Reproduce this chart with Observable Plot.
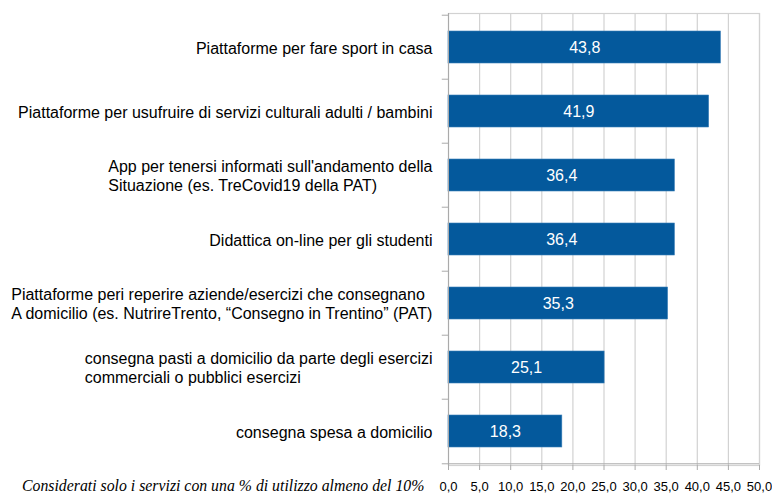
<!DOCTYPE html>
<html>
<head>
<meta charset="utf-8">
<script src="https://cdn.jsdelivr.net/npm/d3@7"></script>
<script src="https://cdn.jsdelivr.net/npm/@observablehq/plot@0.6"></script>
<style>
  html, body { margin: 0; padding: 0; background: #fff; }
  #wrap { position: relative; width: 772px; height: 495px; }
  #caption {
    position: absolute; left: 22px; top: 477px;
    font-family: "Liberation Serif", "DejaVu Serif", serif;
    font-style: italic; font-size: 15.8px; color: #000; white-space: nowrap;
  }
</style>
</head>
<body>
<div id="wrap"><div id="caption"></div></div>
<script>
const categories = [
  "Piattaforme per fare sport in casa",
  "Piattaforme per usufruire di servizi culturali adulti / bambini",
  "App per tenersi informati sull'andamento della\nSituazione (es. TreCovid19 della PAT)",
  "Didattica on-line per gli studenti",
  "Piattaforme peri reperire aziende/esercizi che consegnano\nA domicilio (es. NutrireTrento, \u201cConsegno in Trentino\u201d (PAT)",
  "consegna pasti a domicilio da parte degli esercizi\ncommerciali o pubblici esercizi",
  "consegna spesa a domicilio"
];
const values = [43.8, 41.9, 36.4, 36.4, 35.3, 25.1, 18.3];
const valueLabels = ["43,8", "41,9", "36,4", "36,4", "35,3", "25,1", "18,3"];
const xTicks = [0, 5, 10, 15, 20, 25, 30, 35, 40, 45, 50];
const xTickLabels = ["0,0", "5,0", "10,0", "15,0", "20,0", "25,0", "30,0", "35,0", "40,0", "45,0", "50,0"];
const captionText = "Considerati solo i servizi con una % di utilizzo almeno del 10%";

const data = categories.map((c, i) => ({cat: c, value: values[i], label: valueLabels[i]}));

const W = 772, H = 495, mL = 448, mR = 13, mT = 13, mB = 30;
const bandH = (H - mT - mB) / categories.length;

const chart = Plot.plot({
  width: W, height: H,
  marginLeft: mL, marginRight: mR, marginTop: mT, marginBottom: mB,
  style: {fontFamily: "'Liberation Sans', Arial, sans-serif", background: "#fff"},
  x: {domain: [0, 50]},
  y: {domain: categories, padding: 0, axis: null},
  marks: [
    Plot.ruleX(xTicks, {stroke: "#d2d2d2", strokeWidth: 1.2}),
    Plot.frame({stroke: "#d2d2d2", strokeWidth: 1.2}),
    Plot.barX(data, {x: "value", y: "cat", fill: "#04599c", stroke: "#3a7fb8", strokeWidth: 0.6, insetTop: 16, insetBottom: 16}),
    Plot.text(data, {x: d => d.value / 2, y: "cat", text: "label", fill: "#fff", fontSize: 16}),
    Plot.text(data, {x: 0, y: "cat", text: "cat", textAnchor: "end", dx: -16, fill: "#000", fontSize: 16, lineHeight: 1.2}),
    Plot.ruleY(categories, {y: d => d, x1: -1, x2: 0, dy: -bandH / 2, stroke: "#aaa"}),
    Plot.ruleY([categories[categories.length - 1]], {y: d => d, x1: -1, x2: 0, dy: bandH / 2, stroke: "#aaa"}),
    Plot.ruleX([0], {stroke: "#aaa"}),
    Plot.axisX({
      ticks: xTicks, tickSize: 5, tickPadding: 11,
      tickFormat: d => xTickLabels[xTicks.indexOf(d)],
      stroke: "#aaa", fill: "#000", fontSize: 13, label: null
    }),
    Plot.ruleY([categories[categories.length - 1]], {y: d => d, dy: bandH / 2, stroke: "#aaa"})
  ]
});
const wrap = document.getElementById("wrap");
wrap.insertBefore(chart, wrap.firstChild);
document.getElementById("caption").textContent = captionText;

// Multi-line labels: lines left-aligned inside a block whose right edge sits next to the axis
chart.querySelectorAll("text").forEach(t => {
  const spans = t.querySelectorAll("tspan");
  if (spans.length < 2) return;
  const w = t.getBBox().width;
  t.setAttribute("text-anchor", "start");
  t.style.textAnchor = "start";
  spans.forEach(s => {
    const x0 = parseFloat(s.getAttribute("x") || "0");
    s.setAttribute("x", x0 - w);
  });
});
</script>
</body>
</html>
